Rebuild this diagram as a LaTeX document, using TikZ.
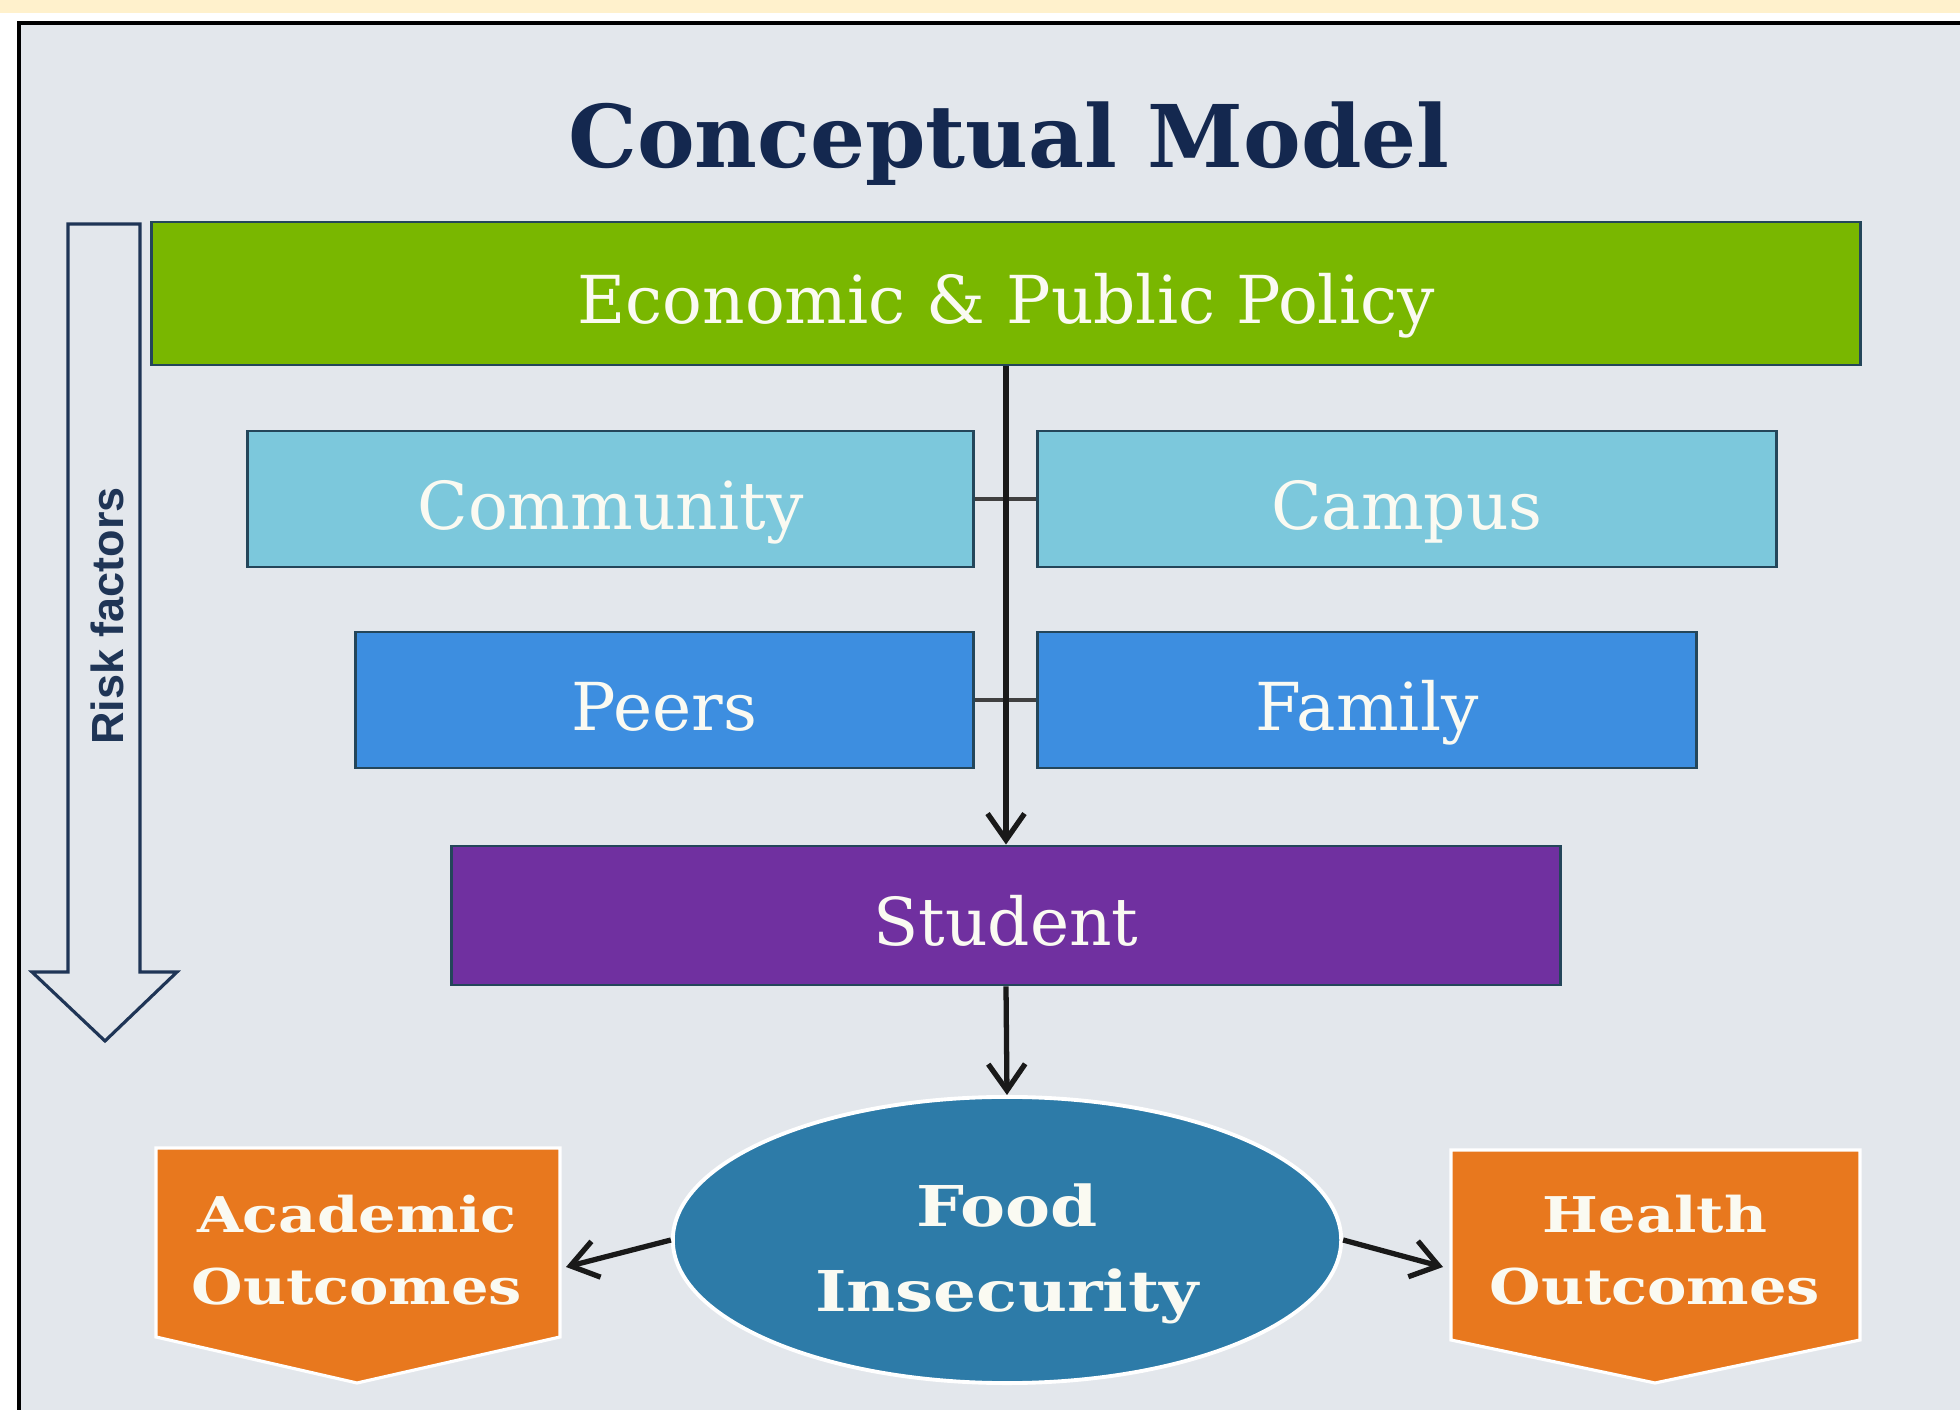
\documentclass[tikz,border=0pt]{standalone}
\usepackage{fontspec}
\setmainfont{DejaVu Serif}
\newfontfamily\riskfont{Liberation Sans}
\newfontfamily\slabwide[FakeStretch=1.2]{DejaVu Serif}
\usetikzlibrary{arrows.meta,shapes.geometric}
\definecolor{bgc}{HTML}{E3E7EC}
\definecolor{creamc}{HTML}{FFF1CC}
\definecolor{titlec}{HTML}{14284F}
\definecolor{greenc}{HTML}{79B700}
\definecolor{commc}{HTML}{7CC8DC}
\definecolor{peerc}{HTML}{3D8EE0}
\definecolor{studc}{HTML}{7030A0}
\definecolor{foodc}{HTML}{2D7BA8}
\definecolor{orangec}{HTML}{E8781E}
\definecolor{edgec}{HTML}{24465A}
\definecolor{riskc}{HTML}{1F3556}
\definecolor{labc}{HTML}{FAFAF2}
\begin{document}
\begin{tikzpicture}[x=0.01cm,y=-0.01cm,
  levelbox/.style={draw=edgec,line width=0.8pt,minimum height=1.36cm,inner sep=0pt,
    text=labc,font=\fontsize{18.8pt}{22pt}\selectfont,text height=0.729em+10pt,text depth=0pt},
  flowarrow/.style={line width=1.5pt,draw=black!90,-{Straight Barb[length=7.5pt,width=10.5pt,line width=1.5pt]}},
  linkline/.style={line width=1.4pt,draw=black!75},
  outlab/.style={text=labc,align=center,font=\slabwide\fontsize{14pt}{20.5pt}\selectfont\bfseries},
  outshape/.style={fill=orangec,draw=white,line width=0.9pt}]
\useasboundingbox (0,0) rectangle (1960,1410);
% background
\fill[white] (0,0) rectangle (1960,1410);
\fill[creamc] (0,0) rectangle (1960,13);
\fill[bgc] (19,23) rectangle (1960,1410);
\draw[black,line width=1pt] (19,1410) -- (19,23) -- (1960,23);
% title
\node[anchor=base,text=titlec,font=\fontsize{24.6pt}{28pt}\selectfont\bfseries] (title) at (1009,168) {Conceptual Model};
% risk factors arrow
\draw[riskc,fill=bgc,line width=0.9pt,line join=miter] (68,224) -- (140,224) -- (140,972) -- (177,972) -- (105,1041) -- (32,972) -- (68,972) -- cycle;
\node[rotate=90,text=riskc,font=\riskfont\fontsize{12.8pt}{15pt}\selectfont\bfseries] (risk) at (107,616) {Risk factors};
% boxes
\node[levelbox,fill=greenc,minimum width=17.08cm,minimum height=1.43cm] (econ) at (1006,293.5) {Economic \& Public Policy};
\node[levelbox,fill=commc,minimum width=7.25cm] (comm) at (610.5,499) {Community};
\node[levelbox,fill=commc,minimum width=7.38cm] (camp) at (1407,499) {Campus};
\node[levelbox,fill=peerc,minimum width=6.17cm] (peer) at (664.5,700) {Peers};
\node[levelbox,fill=peerc,minimum width=6.58cm] (fam) at (1367,700) {Family};
\node[levelbox,fill=studc,minimum width=11.08cm,minimum height=1.39cm] (stud) at (1006,915.5) {Student};
% food insecurity
\node[ellipse,fill=foodc,draw=white,line width=1.1pt,minimum width=6.68cm,minimum height=2.86cm,inner sep=0pt] (food) at (1007,1240) {};
\node[text=labc,align=center,font=\slabwide\fontsize{16pt}{24pt}\selectfont\bfseries] (foodtxt) at (1007,1254) {Food\\Insecurity};
% outcomes
\path[outshape] (156,1148) -- (560,1148) -- (560,1337) -- (357,1383) -- (156,1337) -- cycle;
\node[outlab] (acad) at (357,1250) {Academic\\Outcomes};
\coordinate (acadin) at (566,1267);
\path[outshape] (1451,1150) -- (1860,1150) -- (1860,1340) -- (1655,1383) -- (1451,1340) -- cycle;
\node[outlab] (health) at (1655,1250) {Health\\Outcomes};
\coordinate (healthin) at (1443,1267);
% connectors
\draw[linkline] (comm.east) -- (camp.west);
\draw[linkline] (peer.east) -- (fam.west);
\draw[flowarrow] (econ.south) -- (stud.north);
\draw[flowarrow] (stud.south) -- (food.north);
\draw[flowarrow] (food.west) -- (acadin);
\draw[flowarrow] (food.east) -- (healthin);
\end{tikzpicture}
\end{document}
